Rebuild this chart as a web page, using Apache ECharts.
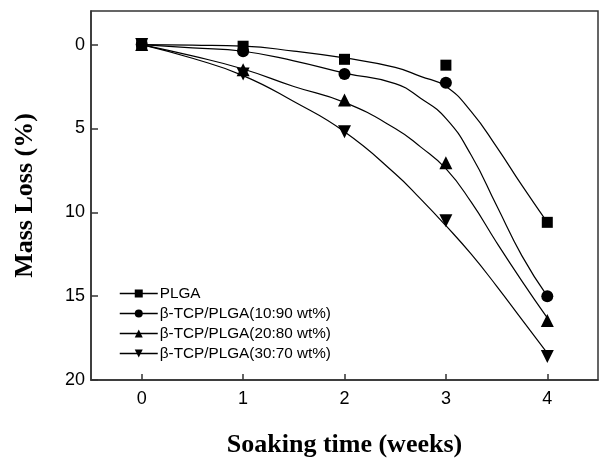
<!DOCTYPE html>
<html>
<head>
<meta charset="utf-8">
<script src="https://cdn.jsdelivr.net/npm/echarts@6/dist/echarts.min.js"></script>
<style>
  html, body { margin: 0; padding: 0; background: #fff; }
  #chart { width: 600px; height: 463px; }
</style>
</head>
<body>
<div id="chart"></div>
<script>
// measured points
var weeks = [0, 1, 2, 3, 4]
var plga = [0, 0.1, 0.88, 1.23, 10.6]
var tcp10 = [0, 0.4, 1.75, 2.28, 15.0]
var tcp20 = [0, 1.5, 3.3, 7.05, 16.45]
var tcp30 = [0, 1.75, 5.2, 10.5, 18.6]

// fitted curves
var fitX = [0, 0.5, 1, 1.5, 2, 2.5, 2.75, 3, 3.25, 3.5, 3.75, 4]
var plgaFit = [0, 0.04, 0.1, 0.39, 0.8, 1.36, 1.9, 2.5, 4.0, 6.1, 8.4, 10.6]
var tcp10Fit = [0, 0.2, 0.4, 0.97, 1.7, 2.33, 3.2, 4.4, 6.6, 9.6, 12.6, 15.0]
var tcp20Fit = [0, 0.68, 1.46, 2.5, 3.45, 5.0, 6.1, 7.4, 9.4, 11.8, 14.1, 16.3]
var tcp30Fit = [0, 0.82, 1.85, 3.4, 5.2, 7.7, 9.2, 10.8, 12.5, 14.4, 16.4, 18.4]

var names = ['PLGA', 'β-TCP/PLGA(10:90 wt%)', 'β-TCP/PLGA(20:80 wt%)', 'β-TCP/PLGA(30:70 wt%)']
var symbols = ['rect', 'circle', 'triangle', 'path://M0,0 L10,0 L5,9 Z']
var symbolSizes = [11, 12, 13, 13]
var xTicks = [0, 1, 2, 3, 4]
var yTicks = [0, 5, 10, 15, 20]

function pairs(xs, ys) {
  return xs.map(function(x, i) { return [x, ys[i]] })
}

var chart = echarts.init(document.getElementById('chart'))
var pointSets = [plga, tcp10, tcp20, tcp30]
var fitSets = [plgaFit, tcp10Fit, tcp20Fit, tcp30Fit]
var series = []
fitSets.forEach(function(f) {
  series.push({
    type: 'line',
    data: pairs(fitX, f),
    smooth: 0.5,
    showSymbol: false,
    silent: true,
    lineStyle: { color: '#000', width: 1.2 },
    z: 2
  })
})
pointSets.forEach(function(p, i) {
  series.push({
    name: names[i],
    type: 'line',
    data: pairs(weeks, p),
    symbol: symbols[i],
    symbolSize: symbolSizes[i],
    showSymbol: true,
    itemStyle: { color: '#000' },
    lineStyle: { width: 0, opacity: 0 },
    z: 3
  })
})

chart.setOption({
  animation: false,
  grid: {
    left: 91,
    right: 2,
    top: 11,
    bottom: 75,
    show: true,
    borderColor: '#333',
    borderWidth: 1.5
  },
  legend: {
    left: 119,
    top: 286,
    padding: 0,
    orient: 'vertical',
    itemGap: 5,
    itemWidth: 38,
    itemHeight: 10,
    textStyle: { fontFamily: 'Liberation Sans', fontSize: 15.3, color: '#000', padding: [0, 0, 0, -3] },
    data: names.map(function(n) {
      return { name: n, lineStyle: { width: 1.5, opacity: 1, color: '#000' } }
    })
  },
  xAxis: {
    type: 'value',
    min: -0.5,
    max: 4.5,
    name: 'Soaking time (weeks)',
    nameLocation: 'middle',
    nameGap: 52,
    nameTextStyle: { fontFamily: 'Liberation Serif', fontWeight: 'bold', fontSize: 26, color: '#000' },
    splitLine: { show: false },
    axisLine: { onZero: false, lineStyle: { color: '#333', width: 1.5 } },
    axisTick: { inside: true, length: 6, customValues: xTicks, lineStyle: { color: '#333', width: 1.5 } },
    axisLabel: { customValues: xTicks, fontFamily: 'Liberation Sans', fontSize: 18, color: '#000', margin: 10 }
  },
  yAxis: {
    type: 'value',
    inverse: true,
    min: -2,
    max: 20,
    name: 'Mass Loss (%)',
    nameLocation: 'middle',
    nameGap: 53,
    nameTextStyle: { fontFamily: 'Liberation Serif', fontWeight: 'bold', fontSize: 26, color: '#000' },
    splitLine: { show: false },
    axisLine: { onZero: false, lineStyle: { color: '#333', width: 1.5 } },
    axisTick: { inside: true, length: 7, customValues: yTicks, lineStyle: { color: '#333', width: 1.5 } },
    axisLabel: { customValues: yTicks, fontFamily: 'Liberation Sans', fontSize: 18, color: '#000', margin: 6 }
  },
  series: series
})
</script>
</body>
</html>
